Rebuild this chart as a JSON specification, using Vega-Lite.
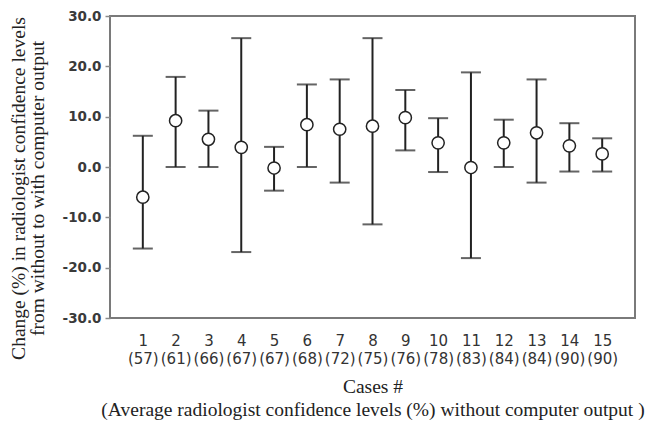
{
  "$schema": "https://vega.github.io/schema/vega-lite/v6.json",
  "width": 525,
  "height": 302,
  "autosize": "none",
  "padding": {"left": 110, "top": 16, "right": 11, "bottom": 107},
  "background": "white",
  "config": {
    "view": {"stroke": "#7a7a7a", "strokeWidth": 2},
    "axisY": {
      "domain": false,
      "grid": true,
      "gridColor": "#9a9a9a",
      "gridWidth": 1.5,
      "gridOpacity": {"condition": {"test": "datum.value === 0", "value": 1}, "value": 0},
      "values": [-30, -20, -10, 0, 10, 20, 30],
      "labelExpr": "replace(format(datum.value, '.1f'), '\u2212', '-')",
      "labelFont": "DejaVu Sans",
      "labelFontWeight": "bold",
      "labelFontSize": 13.5,
      "labelColor": "#3a3a3a",
      "labelPadding": 4,
      "tickColor": "#8a8a8a",
      "tickSize": 5,
      "tickWidth": 1.5,
      "titleFont": "Liberation Serif",
      "titleFontSize": 19.5,
      "titleFontWeight": "normal",
      "titleColor": "#222",
      "titleLineHeight": 19,
      "titlePadding": 15,
      "titleY": 172
    },
    "axisX": {
      "domain": false,
      "ticks": false,
      "grid": false,
      "labelAngle": 0,
      "labelExpr": "split(datum.value, '|')",
      "labelFont": "DejaVu Sans",
      "labelFontSize": 15,
      "labelColor": "#333",
      "labelLineHeight": 18,
      "labelPadding": 15,
      "titleFont": "Liberation Serif",
      "titleFontSize": 19.5,
      "titleFontWeight": "normal",
      "titleColor": "#222",
      "titleLineHeight": 23,
      "titlePadding": 11
    }
  },
  "data": {
    "values": [
      {"label": "1|(57)", "mean": -6.0, "lo": -16.2, "hi": 6.2},
      {"label": "2|(61)", "mean": 9.2, "lo": 0.0, "hi": 17.9},
      {"label": "3|(66)", "mean": 5.5, "lo": 0.0, "hi": 11.2},
      {"label": "4|(67)", "mean": 3.9, "lo": -16.9, "hi": 25.6},
      {"label": "5|(67)", "mean": -0.2, "lo": -4.7, "hi": 4.0},
      {"label": "6|(68)", "mean": 8.4, "lo": 0.0, "hi": 16.4},
      {"label": "7|(72)", "mean": 7.5, "lo": -3.1, "hi": 17.4},
      {"label": "8|(75)", "mean": 8.1, "lo": -11.4, "hi": 25.6},
      {"label": "9|(76)", "mean": 9.8, "lo": 3.3, "hi": 15.3},
      {"label": "10|(78)", "mean": 4.8, "lo": -1.0, "hi": 9.7},
      {"label": "11|(83)", "mean": -0.1, "lo": -18.1, "hi": 18.8},
      {"label": "12|(84)", "mean": 4.8, "lo": 0.0, "hi": 9.4},
      {"label": "13|(84)", "mean": 6.8, "lo": -3.1, "hi": 17.4},
      {"label": "14|(90)", "mean": 4.2, "lo": -0.9, "hi": 8.7},
      {"label": "15|(90)", "mean": 2.6, "lo": -0.9, "hi": 5.7}
    ]
  },
  "encoding": {
    "x": {
      "field": "label",
      "type": "ordinal",
      "sort": null,
      "scale": {"type": "point", "padding": 1},
      "title": ["Cases #", "(Average radiologist confidence levels (%) without computer output )"]
    }
  },
  "layer": [
    {
      "mark": {"type": "rule", "color": "#222", "strokeWidth": 2},
      "encoding": {
        "y": {"field": "lo", "type": "quantitative", "scale": {"domain": [-30, 30], "nice": false, "zero": false}, "title": ["Change (%) in radiologist  confidence  levels", "from without to with computer output"]},
        "y2": {"field": "hi"}
      }
    },
    {
      "mark": {"type": "tick", "color": "#222", "size": 20, "thickness": 2},
      "encoding": {
        "y": {"field": "lo", "type": "quantitative", "title": ["Change (%) in radiologist  confidence  levels", "from without to with computer output"]}
      }
    },
    {
      "mark": {"type": "tick", "color": "#222", "size": 20, "thickness": 2},
      "encoding": {
        "y": {"field": "hi", "type": "quantitative", "title": ["Change (%) in radiologist  confidence  levels", "from without to with computer output"]}
      }
    },
    {
      "mark": {"type": "point", "filled": true, "fill": "white", "stroke": "#222", "strokeWidth": 1.5, "size": 150, "opacity": 1},
      "encoding": {
        "y": {"field": "mean", "type": "quantitative", "title": ["Change (%) in radiologist  confidence  levels", "from without to with computer output"]}
      }
    }
  ]
}
